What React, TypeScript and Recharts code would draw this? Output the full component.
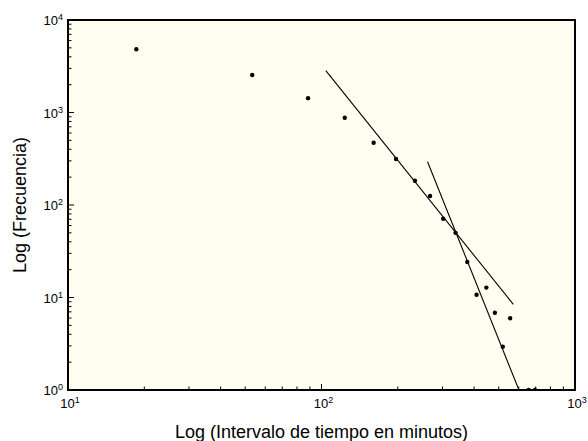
import React from 'react';
import { ComposedChart, Scatter, XAxis, YAxis } from 'recharts';

// measured points (minutes, frequency)
const intervalos = [18.6, 53.3, 88.5, 123.5, 160.6, 196.8, 233.6, 268, 302, 338, 376, 409, 447, 483, 519, 555, 656, 695];
const frecuencias = [4820, 2540, 1430, 876, 471, 314, 183, 125, 71, 50, 24.2, 10.7, 12.8, 6.85, 2.94, 5.96, 1, 1];

// fitted power-law segments
const ajusteA_x = [104, 571];
const ajusteA_y = [2830, 8.44];
const ajusteB_x = [262, 601];
const ajusteB_y = [294, 1];

const xTicks = [10, 20, 30, 40, 50, 60, 70, 80, 90, 100, 200, 300, 400, 500, 600, 700, 800, 900, 1000];
const yTicks = [
  1, 2, 3, 4, 5, 6, 7, 8, 9,
  10, 20, 30, 40, 50, 60, 70, 80, 90,
  100, 200, 300, 400, 500, 600, 700, 800, 900,
  1000, 2000, 3000, 4000, 5000, 6000, 7000, 8000, 9000, 10000,
];

const puntos = intervalos.map((x, i) => ({ x, y: frecuencias[i] }));
const ajusteA = ajusteA_x.map((x, i) => ({ x, y: ajusteA_y[i] }));
const ajusteB = ajusteB_x.map((x, i) => ({ x, y: ajusteB_y[i] }));

const FONT = '"Liberation Sans", Arial, Helvetica, sans-serif';
const BG = '#fffef0';

const W = 588;
const H = 441;
const M = { top: 20, right: 13, bottom: 0, left: 0 };
const Y_W = 68;
const X_H = 51;
const PLOT_W = W - M.left - M.right - Y_W;
const PLOT_H = H - M.top - M.bottom - X_H;

const isPow10 = (v: number) => Math.abs(Math.log10(v) - Math.round(Math.log10(v))) < 1e-9;
const MAJOR = 6;
const MINOR = 3.5;

const PowLabel = ({ x, y, v, anchor }: any) => (
  <text x={x} y={y} textAnchor={anchor} fontSize={13} fill="#000" fontFamily={FONT}>
    10
    <tspan dy={-5} fontSize={9}>{Math.round(Math.log10(v))}</tspan>
  </text>
);

const TickBottom = (props: any) => {
  const { x, y, payload } = props;
  const major = isPow10(payload.value);
  return (
    <g>
      <line x1={x} y1={y} x2={x} y2={y - (major ? MAJOR : MINOR)} stroke="#000" />
      {major && <PowLabel x={x + 2} y={y + 18} v={payload.value} anchor="middle" />}
    </g>
  );
};

const TickTop = (props: any) => {
  const { x, y, payload } = props;
  const major = isPow10(payload.value);
  return <line x1={x} y1={y} x2={x} y2={y + (major ? MAJOR : MINOR)} stroke="#000" />;
};

const TickLeft = (props: any) => {
  const { x, y, payload } = props;
  const major = isPow10(payload.value);
  return (
    <g>
      <line x1={x} y1={y} x2={x + (major ? MAJOR : MINOR)} y2={y} stroke="#000" />
      {major && <PowLabel x={x - 5} y={y + 5} v={payload.value} anchor="end" />}
    </g>
  );
};

const TickRight = (props: any) => {
  const { x, y, payload } = props;
  const major = isPow10(payload.value);
  return <line x1={x} y1={y} x2={x - (major ? MAJOR : MINOR)} y2={y} stroke="#000" />;
};

const Dot = (p: any) => <circle cx={p.cx} cy={p.cy} r={2.2} fill="#000" />;
const NoShape = () => <g />;

export default function App() {
  return (
    <div style={{ position: 'relative', width: W, height: H, background: '#fff', fontFamily: FONT }}>
      <style>{'body{margin:0}'}</style>
      {/* plot-area background and frame behind the transparent svg */}
      <div
        style={{
          position: 'absolute',
          boxSizing: 'border-box',
          left: M.left + Y_W - 1,
          top: M.top - 1,
          width: PLOT_W + 2,
          height: PLOT_H + 2,
          background: BG,
          border: '2px solid #000',
        }}
      />
      <div style={{ position: 'absolute', left: 0, top: 0 }}>
        <ComposedChart width={W} height={H} margin={M}>
          <XAxis
            dataKey="x"
            type="number"
            scale="log"
            domain={[10, 1000]}
            allowDataOverflow
            ticks={xTicks}
            interval={0}
            tickSize={0}
            tickMargin={0}
            tickLine={false}
            axisLine={false}
            tick={TickBottom}
            height={X_H}
            label={{
              value: 'Log (Intervalo de tiempo en minutos)',
              position: 'insideBottom',
              offset: 3,
              fontSize: 18,
              fill: '#000',
              fontFamily: FONT,
            }}
          />
          <XAxis
            xAxisId="top"
            orientation="top"
            dataKey="x"
            type="number"
            scale="log"
            domain={[10, 1000]}
            allowDataOverflow
            ticks={xTicks}
            interval={0}
            tickSize={0}
            tickMargin={0}
            tickLine={false}
            axisLine={false}
            tick={TickTop}
            height={0}
          />
          <YAxis
            dataKey="y"
            type="number"
            scale="log"
            domain={[1, 10000]}
            allowDataOverflow
            ticks={yTicks}
            interval={0}
            tickSize={0}
            tickMargin={0}
            tickLine={false}
            axisLine={false}
            tick={TickLeft}
            width={Y_W}
            label={{
              content: () => (
                <text
                  x={26}
                  y={205}
                  transform="rotate(-90 26 205)"
                  textAnchor="middle"
                  fontSize={18}
                  fill="#000"
                  fontFamily={FONT}
                >
                  Log (Frecuencia)
                </text>
              ),
            }}
          />
          <YAxis
            yAxisId="right"
            orientation="right"
            dataKey="y"
            type="number"
            scale="log"
            domain={[1, 10000]}
            allowDataOverflow
            ticks={yTicks}
            interval={0}
            tickSize={0}
            tickMargin={0}
            tickLine={false}
            axisLine={false}
            tick={TickRight}
            width={0}
          />
          <Scatter data={ajusteA} line={{ stroke: '#000', strokeWidth: 1.1 }} shape={NoShape} isAnimationActive={false} />
          <Scatter data={ajusteB} line={{ stroke: '#000', strokeWidth: 1.1 }} shape={NoShape} isAnimationActive={false} />
          <Scatter data={puntos} shape={Dot} isAnimationActive={false} />
        </ComposedChart>
      </div>
    </div>
  );
}
